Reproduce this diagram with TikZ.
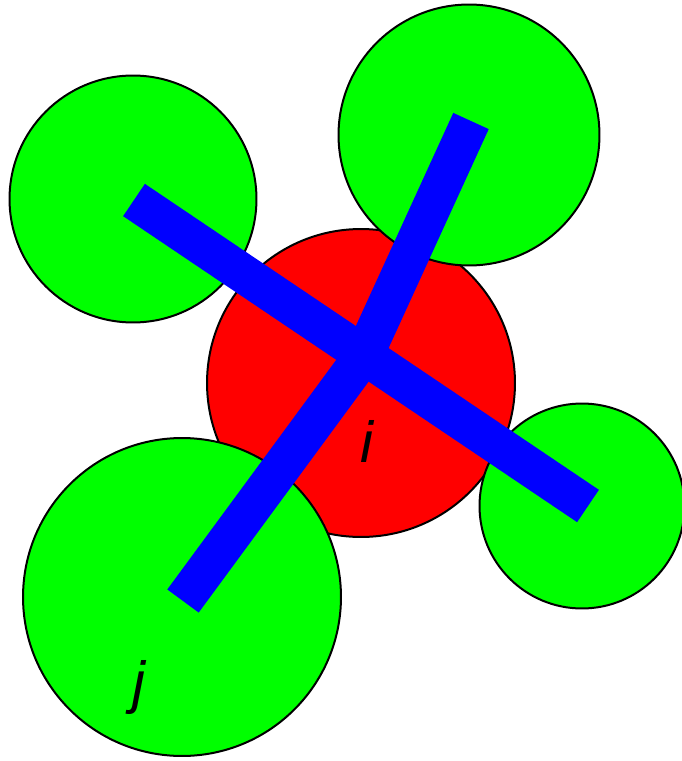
\documentclass[tikz,border=0pt]{standalone}
\usepackage{fontspec}
\setmainfont{Liberation Sans}
\usepackage{tikz}
\usetikzlibrary{positioning}
\definecolor{atomred}{RGB}{255,0,0}
\definecolor{atomgreen}{RGB}{0,255,0}
\definecolor{bondblue}{RGB}{0,0,255}
\tikzset{
  atom/.style={circle, draw=black, line width=0.04cm, inner sep=0pt},
  bond/.style={bondblue, line width=0.78cm, line cap=butt, line join=miter},
  atomlabel/.style={font=\fontsize{33}{40}\selectfont\itshape, inner sep=0pt, anchor=base}
}

\begin{document}
\begin{tikzpicture}[x=0.02cm, y=-0.02cm]
  \useasboundingbox (0,0) rectangle (681,761);

  % central atom
  \node[atom, fill=atomred, minimum size=6.16cm] (ci) at (361,383) {};

  % neighbours
  \node[atom, fill=atomgreen, minimum size=4.94cm] (ntl) at (133,199) {};
  \node[atom, fill=atomgreen, minimum size=5.22cm] (ntr) at (469,135) {};
  \node[atom, fill=atomgreen, minimum size=4.1cm] (nr) at (582,506) {};
  \node[atom, fill=atomgreen, minimum size=6.36cm] (nj) at (182,597) {};

  % bond ends
  \coordinate (bo) at (364,355);
  \coordinate (ba) at (134,200);
  \coordinate (bb) at (588,506);
  \coordinate (bc) at (471,121);
  \coordinate (bd) at (183,601);

  % bonds
  \draw[bond] (ba) -- (bo) -- (bb);
  \draw[bond] (bc) -- (bo) -- (bd);

  % labels
  \node[atomlabel] (li) at (367,462) {i};
  \node[atomlabel] (lj) at (139,702) {j};
\end{tikzpicture}
\end{document}
